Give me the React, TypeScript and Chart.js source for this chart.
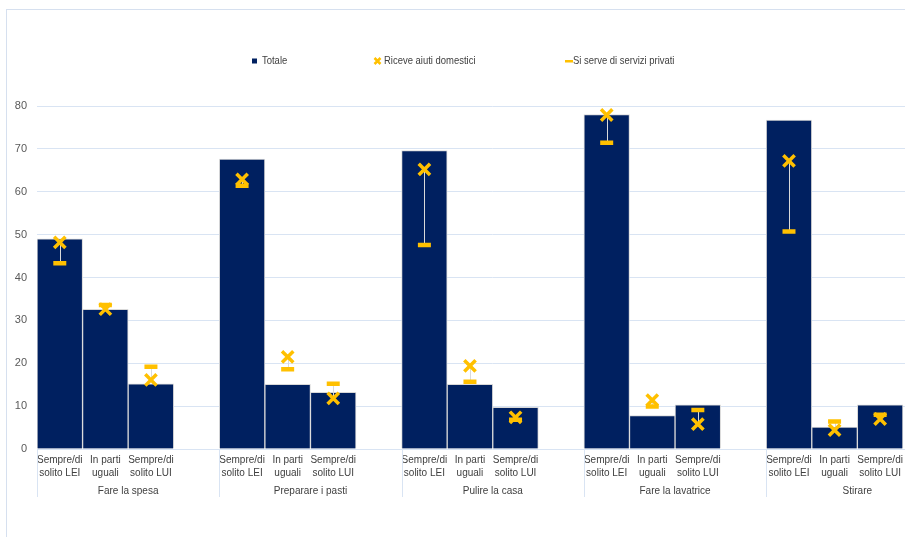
import React, { useEffect, useRef } from 'react';
import { Chart, registerables } from 'chart.js';

Chart.register(...registerables);

// ---- Data ----
const groups = ['Fare la spesa', 'Preparare i pasti', 'Pulire la casa', 'Fare la lavatrice', 'Stirare'];
const subLabels: (string | string[])[] = [['Sempre/di', 'solito LEI'], ['In parti', 'uguali'], ['Sempre/di', 'solito LUI'], ''];
const categories = groups.flatMap(() => subLabels);
const seriesNames = ['Totale', 'Riceve aiuti domestici', 'Si serve di servizi privati'];
const totale = [49.0, 32.6, 15.2, null, 67.6, 15.1, 13.2, null, 69.6, 15.1, 9.7, null, 78.0, 7.8, 10.3, null, 76.7, 5.1, 10.3, null];
const riceve = [48.2, 32.6, 16.1, null, 62.9, 21.5, 11.8, null, 65.2, 19.4, 7.4, null, 77.9, 11.4, 5.8, null, 67.2, 4.4, 7.0, null];
const servizi = [43.3, 33.6, 19.2, null, 61.4, 18.6, 15.2, null, 47.6, 15.7, 6.8, null, 71.4, 9.9, 9.1, null, 50.7, 6.4, 8.0, null];
const yMin = 0;
const yMax = 80;
const yStep = 10;

const NAVY = '#002060';
const YELLOW = '#FFC000';
const FONT = '"Liberation Sans", Arial, sans-serif';
const TEXT = '#404040';
const GRID = '#d9e4f3';

const hiLoPlugin = {
  id: 'hiLo',
  beforeDatasetDraw(chart: any, args: any) {
    if (args.index !== 2) return;
    const x = chart.scales.x;
    const y = chart.scales.y;
    const ctx = chart.ctx;
    ctx.save();
    ctx.strokeStyle = '#d9d9d9';
    ctx.lineWidth = 1;
    riceve.forEach((r, i) => {
      const s = servizi[i];
      if (r == null || s == null) return;
      const px = Math.round(x.getPixelForValue(i)) + 0.5;
      ctx.beginPath();
      ctx.moveTo(px, y.getPixelForValue(r));
      ctx.lineTo(px, y.getPixelForValue(s));
      ctx.stroke();
    });
    ctx.restore();
  },
};

const separatorPlugin = {
  id: 'separators',
  afterDraw(chart: any) {
    const x = chart.scales.x;
    const ctx = chart.ctx;
    const slot = (x.right - x.left) / categories.length;
    const bottom = chart.chartArea.bottom;
    ctx.save();
    ctx.strokeStyle = GRID;
    ctx.lineWidth = 1;
    groups.forEach((_, g) => {
      const px = Math.round(x.getPixelForValue(g * subLabels.length) - slot / 2) + 0.5;
      ctx.beginPath();
      ctx.moveTo(px, bottom);
      ctx.lineTo(px, bottom + 48);
      ctx.stroke();
    });
    ctx.restore();
  },
};

const legendPlugin = {
  id: 'customLegend',
  afterDraw(chart: any) {
    const ctx = chart.ctx;
    const yc = 61;
    const xs = [252, 374, 565];
    ctx.save();
    // Totale marker
    ctx.fillStyle = NAVY;
    ctx.fillRect(xs[0], yc - 2.5, 5, 5);
    // Riceve marker (cross)
    ctx.strokeStyle = YELLOW;
    ctx.lineWidth = 2.5;
    ctx.beginPath();
    ctx.moveTo(xs[1] + 0.5, yc - 3);
    ctx.lineTo(xs[1] + 6.5, yc + 3);
    ctx.moveTo(xs[1] + 6.5, yc - 3);
    ctx.lineTo(xs[1] + 0.5, yc + 3);
    ctx.stroke();
    // Servizi marker (dash)
    ctx.fillStyle = YELLOW;
    ctx.fillRect(xs[2], yc - 1, 8, 2.5);
    ctx.fillStyle = TEXT;
    ctx.font = `11px ${FONT}`;
    ctx.textBaseline = 'middle';
    ctx.textAlign = 'left';
    const starts = [xs[0] + 10, xs[1] + 10, xs[2] + 8];
    seriesNames.forEach((name, i) => {
      ctx.save();
      ctx.translate(starts[i], yc);
      ctx.scale(0.86, 1);
      ctx.fillText(name, 0, 0);
      ctx.restore();
    });
    ctx.restore();
  },
};

export default function App() {
  const ref = useRef<HTMLCanvasElement>(null);
  useEffect(() => {
    const chart = new Chart(ref.current as HTMLCanvasElement, {
      type: 'bar',
      data: {
        labels: categories,
        datasets: [
          {
            type: 'bar',
            label: seriesNames[0],
            data: totale,
            backgroundColor: NAVY,
            borderColor: '#d9d9d9',
            borderWidth: 1,
            categoryPercentage: 1,
            barPercentage: 1,
            order: 3,
          } as any,
          {
            type: 'line',
            label: seriesNames[1],
            data: riceve,
            showLine: false,
            pointStyle: 'crossRot',
            pointRadius: 8,
            pointBorderWidth: 3.5,
            pointBorderColor: YELLOW,
            pointBackgroundColor: YELLOW,
            order: 1,
          } as any,
          {
            type: 'line',
            label: seriesNames[2],
            data: servizi,
            showLine: false,
            pointStyle: 'line',
            pointRadius: 6.5,
            pointBorderWidth: 4.5,
            pointBorderColor: YELLOW,
            pointBackgroundColor: YELLOW,
            order: 2,
          } as any,
        ],
      },
      options: {
        responsive: false,
        animation: false,
        devicePixelRatio: 1,
        layout: { padding: { top: 106, right: 8, bottom: 36, left: 0 } },
        plugins: { legend: { display: false }, tooltip: { enabled: false } },
        scales: {
          x: {
            type: 'category',
            offset: true,
            weight: 0,
            grid: { display: false, drawTicks: false },
            border: { display: false },
            ticks: {
              autoSkip: false,
              maxRotation: 0,
              minRotation: 0,
              padding: 5,
              color: TEXT,
              font: { family: FONT, size: 10, lineHeight: 1.3 },
            },
            afterFit: (s: any) => { s.height = 34; },
          },
          x2: {
            type: 'category',
            labels: groups,
            position: 'bottom',
            offset: true,
            weight: 1,
            grid: { display: false, drawTicks: false },
            border: { display: false },
            ticks: {
              autoSkip: false,
              maxRotation: 0,
              minRotation: 0,
              padding: 2,
              color: TEXT,
              font: { family: FONT, size: 10, lineHeight: 1.3 },
            },
            afterFit: (s: any) => { s.height = 18; },
          },
          y: {
            min: yMin,
            max: yMax,
            ticks: { stepSize: yStep, padding: 10, color: '#595959', font: { family: FONT, size: 11 } },
            grid: { color: GRID, drawTicks: false },
            border: { display: false },
            afterFit: (s: any) => { s.width = 37; },
          },
        },
      } as any,
      plugins: [hiLoPlugin, separatorPlugin, legendPlugin],
    });
    return () => chart.destroy();
  }, []);

  return (
    <div style={{ position: 'fixed', left: 0, top: 0, width: 905, height: 537, overflow: 'hidden', background: '#fff' }}>
      <div
        style={{
          position: 'absolute', left: 6, top: 9, width: 1200, height: 800,
          borderLeft: '1px solid #d6e0ef', borderTop: '1px solid #d6e0ef',
        }}
      />
      <canvas
        ref={ref}
        width={960}
        height={537}
        style={{ position: 'absolute', left: 0, top: 0, width: 960, height: 537, display: 'block' }}
      />
    </div>
  );
}
